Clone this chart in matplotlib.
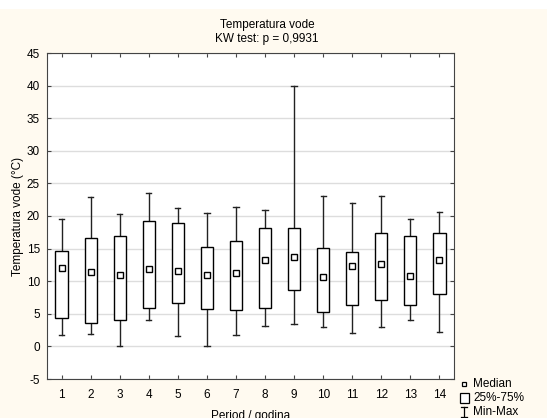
import numpy as np
import matplotlib.pyplot as plt
from matplotlib.patches import Rectangle

plt.rcParams['font.family'] = ['Liberation Sans', 'DejaVu Sans']
plt.rcParams['axes.unicode_minus'] = False

periods = np.arange(1, 15)
medians = [12.1, 11.4, 11.0, 11.8, 11.5, 10.9, 11.3, 13.3, 13.7, 10.6, 12.4, 12.6, 10.8, 13.2]
q25 = [4.4, 3.6, 4.0, 5.9, 6.7, 5.8, 5.6, 5.9, 8.7, 5.3, 6.4, 7.1, 6.3, 8.1]
q75 = [14.6, 16.6, 16.9, 19.2, 18.9, 15.2, 16.2, 18.1, 18.1, 15.1, 14.5, 17.4, 16.9, 17.4]
mins = [1.7, 1.9, 0.1, 4.0, 1.6, 0.1, 1.8, 3.1, 3.4, 2.9, 2.1, 3.0, 4.0, 2.2]
maxs = [19.5, 22.9, 20.3, 23.6, 21.3, 20.4, 21.4, 20.9, 40.0, 23.0, 22.0, 23.1, 19.5, 20.6]

fig = plt.figure(figsize=(5.47, 4.18), dpi=100)
fig.patches.append(Rectangle((0, 0), 1, 1 - 9 / 418, transform=fig.transFigure,
                             facecolor='#fffaf0', edgecolor='none', zorder=-10))

ax = fig.add_axes([47 / 547, 1 - 379 / 418, 407 / 547, 326 / 418])
ax.set_facecolor('white')

bw = 0.42
cw = 0.18
for x, lo, hi, b, t, m in zip(periods, mins, maxs, q25, q75, medians):
    ax.plot([x, x], [lo, b], color='#222222', lw=1, zorder=2)
    ax.plot([x, x], [t, hi], color='#222222', lw=1, zorder=2)
    ax.plot([x - cw / 2, x + cw / 2], [lo, lo], color='#222222', lw=1, zorder=2)
    ax.plot([x - cw / 2, x + cw / 2], [hi, hi], color='#222222', lw=1, zorder=2)
    ax.add_patch(Rectangle((x - bw / 2, b), bw, t - b, facecolor='white',
                           edgecolor='black', lw=1, zorder=3))
ax.plot(periods, medians, 's', ms=4.5, mfc='white', mec='black', mew=1, zorder=4)

ax.set_xlim(0.5, 14.5)
ax.set_ylim(-5, 45)
ax.set_xticks(periods)
ax.set_yticks(np.arange(-5, 46, 5))
ax.yaxis.grid(True, color='#dddddd', lw=1)
ax.set_axisbelow(True)
ax.tick_params(direction='in', top=True, right=True, labelsize=8.5, length=3,
               color='#444444', pad=5)
ax.tick_params(axis='x', pad=7)
for s in ax.spines.values():
    s.set_color('#444444')

ax.set_ylabel('Temperatura vode (°C)', fontsize=8.5, labelpad=2)
ax.set_xlabel('Period / godina', fontsize=8.5, labelpad=7)
fig.text(267 / 547, 1 - 25 / 418, 'Temperatura vode', ha='center', va='center', fontsize=8.5)
fig.text(267 / 547, 1 - 39 / 418, 'KW test: p = 0,9931', ha='center', va='center', fontsize=8.5)

# legend outside, lower right
fig.text(473 / 547, 1 - 384 / 418, 'Median', va='center', fontsize=8.5)
fig.text(473 / 547, 1 - 398 / 418, '25%-75%', va='center', fontsize=8.5)
fig.text(473 / 547, 1 - 412 / 418, 'Min-Max', va='center', fontsize=8.5)
fig.lines.append(plt.Line2D([464 / 547], [1 - 384 / 418], marker='s', ms=3.5, mfc='white',
                            mec='black', mew=0.9, transform=fig.transFigure))
fig.patches.append(Rectangle((460 / 547, 1 - 403 / 418), 9 / 547, 10 / 418, facecolor='white',
                             edgecolor='black', lw=0.9, transform=fig.transFigure))
fig.lines.append(plt.Line2D([464 / 547, 464 / 547], [1 - 417 / 418, 1 - 407 / 418],
                            color='black', lw=0.9, transform=fig.transFigure))
fig.lines.append(plt.Line2D([461 / 547, 467 / 547], [1 - 407 / 418, 1 - 407 / 418],
                            color='black', lw=0.9, transform=fig.transFigure))
fig.lines.append(plt.Line2D([461 / 547, 467 / 547], [1 - 417 / 418, 1 - 417 / 418],
                            color='black', lw=0.9, transform=fig.transFigure))

fig.savefig('out.png', dpi=100)
